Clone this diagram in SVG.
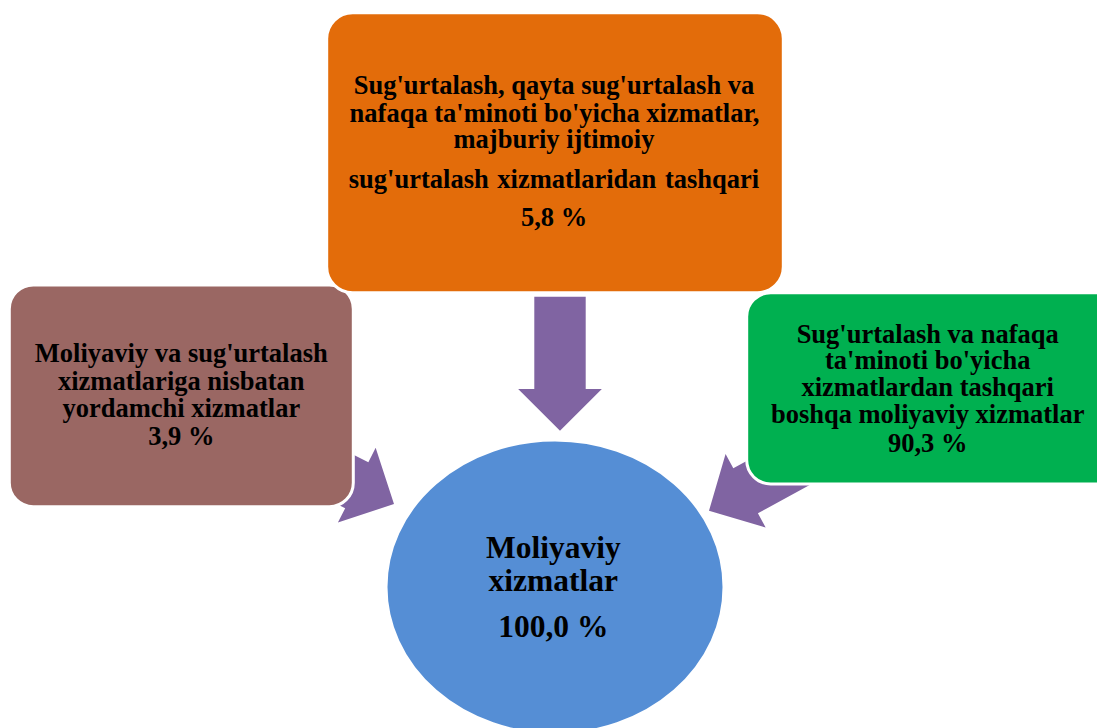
<svg xmlns="http://www.w3.org/2000/svg" width="1097" height="728" viewBox="0 0 1097 728">
<style>
.t{font-family:"Liberation Serif","Times New Roman",serif;font-weight:bold;font-size:26.5px;fill:#000;text-anchor:middle}
.big{font-size:31.5px}
.box{stroke:#fff;stroke-width:3}
</style>
<defs>
<path id="arr" d="M-25.7,-134 H25.7 V-41.7 H41.85 L0,0 L-41.85,-41.7 H-25.7 Z" fill="#8064A2"/>
</defs>
<rect width="1097" height="728" fill="#fff"/>
<g id="connectors">
<use href="#arr" transform="translate(560,430.7)"/>
<use href="#arr" transform="translate(394,504) rotate(-63.2)"/>
<use href="#arr" transform="translate(709,510.7) rotate(61.4)"/>
</g>
<g id="node-left">
<rect class="box" x="9.3" y="285" width="344" height="221.7" rx="24" fill="#9A6763"/>
<text class="t" x="181.3" y="361.7">Moliyaviy va sug'urtalash</text>
<text class="t" x="181.3" y="389.5">xizmatlariga nisbatan</text>
<text class="t" x="181.3" y="417.3">yordamchi xizmatlar</text>
<text class="t" x="181.3" y="445">3,9 %</text>
</g>
<g id="node-right">
<rect class="box" x="746.7" y="292.7" width="380" height="191.3" rx="24" fill="#00B050"/>
<text class="t" x="927.7" y="342.7">Sug'urtalash va nafaqa</text>
<text class="t" x="927.7" y="369.3">ta'minoti bo'yicha</text>
<text class="t" x="927.7" y="396">xizmatlardan tashqari</text>
<text class="t" x="927.7" y="422.7">boshqa moliyaviy xizmatlar</text>
<text class="t" x="927.7" y="451.7">90,3 %</text>
</g>
<g id="node-top">
<rect class="box" x="326.7" y="12.7" width="456.6" height="280" rx="26" fill="#E36C0A"/>
<text class="t" x="554" y="94.3">Sug'urtalash, qayta sug'urtalash va</text>
<text class="t" x="554.5" y="121.7">nafaqa ta'minoti bo'yicha xizmatlar,</text>
<text class="t" x="554" y="148.3">majburiy ijtimoiy</text>
<text class="t" x="554" y="188.3" style="word-spacing:2px">sug'urtalash xizmatlaridan tashqari</text>
<text class="t" x="554" y="226">5,8 %</text>
</g>
<g id="node-center">
<ellipse class="box" cx="555" cy="587" rx="169" ry="147" fill="#558ED5"/>
<text class="t big" x="553.3" y="558.3">Moliyaviy</text>
<text class="t big" x="553.3" y="591">xizmatlar</text>
<text class="t big" x="553.3" y="636.7">100,0 %</text>
</g>
</svg>
